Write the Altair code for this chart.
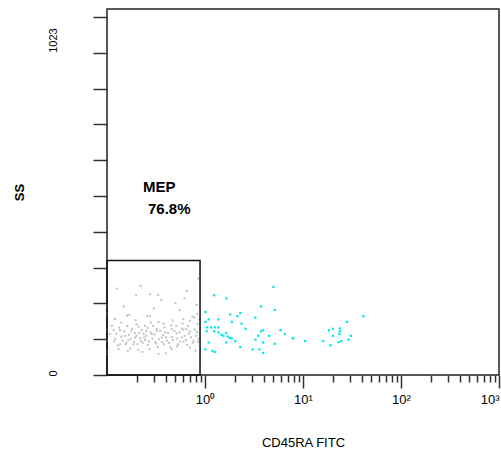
import altair as alt
import pandas as pd

# ---- data (CD45RA FITC vs SS) ----
grey_x = [0.126, 0.198, 0.275, 0.333, 0.357, 0.619, 0.859, 0.148, 0.169, 0.258,
          0.275, 0.196, 0.746, 0.78, 0.706, 0.335, 0.377, 0.245, 0.59, 0.117,
          0.136, 0.177, 0.251, 0.459, 0.508, 0.576, 0.645, 0.322, 0.392, 0.213,
          0.286, 0.153, 0.107, 0.515, 0.68, 0.83, 0.193, 0.24, 0.362, 0.459,
          0.58, 0.121, 0.165, 0.223, 0.31, 0.408, 0.605, 0.764, 0.136, 0.155,
          0.186, 0.26, 0.38, 0.53, 0.653, 0.131, 0.172, 0.209, 0.27, 0.459,
          0.163, 0.335, 0.846, 0.441,
          0.112, 0.118, 0.124, 0.129, 0.133, 0.14, 0.145, 0.15, 0.158, 0.161,
          0.168, 0.175, 0.18, 0.188, 0.192, 0.2, 0.205, 0.21, 0.218, 0.226,
          0.232, 0.237, 0.245, 0.252, 0.26, 0.268, 0.279, 0.29, 0.296, 0.305,
          0.316, 0.322, 0.34, 0.35, 0.366, 0.372, 0.386, 0.4, 0.42, 0.43,
          0.45, 0.47, 0.49, 0.52, 0.55, 0.56, 0.6, 0.62, 0.64, 0.67,
          0.7, 0.72, 0.75, 0.79, 0.81, 0.84, 0.86, 0.88, 0.83, 0.6,
          0.47, 0.28, 0.2, 0.14, 0.33, 0.52, 0.7, 0.23, 0.4, 0.8,
          0.12, 0.16, 0.3, 0.55, 0.82, 0.65, 0.5, 0.22,
          0.1, 0.1, 0.1, 0.1, 0.1, 0.1, 0.1, 0.1, 0.1, 0.1]
grey_y = [247, 228, 231, 229, 215, 219, 276, 196, 172, 168,
          168, 157, 167, 164, 155, 152, 147, 140, 147, 128,
          128, 125, 126, 131, 140, 133, 131, 126, 122, 120,
          117, 112, 117, 119, 117, 122, 107, 107, 107, 109,
          107, 103, 100, 97, 95, 98, 95, 98, 88, 88,
          88, 86, 88, 88, 86, 74, 76, 72, 74, 74,
          69, 60, 95, 79,
          140, 96, 118, 84, 135, 110, 98, 125, 92, 140,
          115, 104, 132, 95, 120, 112, 88, 138, 105, 128,
          92, 118, 100, 112, 135, 96, 122, 104, 140, 116,
          90, 132, 102, 126, 94, 114, 136, 108, 120, 92,
          142, 100, 126, 104, 122, 96, 130, 112, 100, 140,
          124, 108, 92, 130, 112, 146, 104, 160, 175, 160,
          156, 150, 145, 150, 80, 82, 78, 66, 62, 70,
          160, 170, 190, 185, 200, 240, 205, 255,
          200, 192, 176, 170, 130, 128, 100, 96, 68, 60]

cyan_x = [4.99, 1.24, 1.65, 3.73, 5.15, 1.01, 2.29, 1.81, 2.14, 3.26,
          1.09, 1.37, 1.88, 1.01, 2.36, 1.05, 1.16, 1.26, 1.37, 2.60,
          3.91, 5.89, 1.04, 1.24, 1.37, 3.73, 1.65, 6.52, 1.47, 1.54,
          1.70, 3.48, 4.51, 1.79, 1.87, 7.86, 2.04, 1.09, 1.65, 3.28,
          3.91, 5.15, 2.29, 1.01, 1.19, 1.26, 3.06, 3.59, 3.91,
          41.3, 28.1, 23.8, 20.2, 18.4, 23.8, 23.5, 30.8, 20.2, 7.93,
          29.2, 10.5, 16.1, 24.6, 23.1, 19.1]
cyan_y = [252, 228, 219, 196, 186, 180, 177, 173, 168, 164,
          159, 159, 152, 152, 147, 136, 136, 136, 136, 132,
          128, 128, 125, 125, 122, 125, 120, 117, 115, 112,
          110, 112, 112, 106, 105, 105, 97, 93, 93, 101,
          93, 89, 80, 73, 69, 66, 73, 73, 63,
          168, 152, 133, 132, 128, 125, 117, 112, 112, 105,
          101, 97, 97, 97, 94, 85]

gate_x = [0.1, 0.89]
gate_y = [0, 327]
gate_name = ["MEP", "76.8%"]
gate_label_x = [0.233, 0.262]
gate_label_y = [537, 474]

y_tick_values = [round(102.3 * k, 1) for k in range(11)]
y_tick_labels = ["0", "1023"]
x_major = [1, 10, 100, 1000]
x_major_labels = ["10\u2070", "10\u00b9", "10\u00b2", "10\u00b3"]
x_minor = [round(k * 10.0 ** d, 6) for d in range(-1, 3) for k in range(2, 10)]
x_tick_values = sorted(x_minor + x_major)

FONT = "Liberation Sans"

grey = pd.DataFrame({"x": grey_x, "y": grey_y})
cyan = pd.DataFrame({"x": cyan_x, "y": cyan_y})
gate = pd.DataFrame({"x": [gate_x[0]], "x2": [gate_x[1]], "y": [gate_y[0]], "y2": [gate_y[1]]})
labels = pd.DataFrame({"t": gate_name, "x": gate_label_x, "y": gate_label_y})

xs = alt.Scale(type="log", domain=[0.1, 1000], nice=False)
ys = alt.Scale(domain=[0, 1046], nice=False, zero=False)

major_test = "indexof([1,10,100,1000], datum.value) >= 0"
x_label_expr = " : ".join(
    f"datum.value == {v} ? '{l}'" for v, l in zip(x_major, x_major_labels)
) + " : ''"
y_label_expr = (f"datum.value == 0 ? '{y_tick_labels[0]}' : "
                f"(datum.value == 1023 ? '{y_tick_labels[1]}' : '')")

x_axis = alt.Axis(
    values=x_tick_values, tickCount=200,
    tickSize={"condition": {"test": major_test, "value": 13}, "value": 7},
    tickColor="#333", tickWidth=1.5,
    labelExpr=x_label_expr, labelFlush=True, labelOverlap=False,
    labelFont=FONT, labelFontSize=13, labelColor="#000", labelPadding=5,
    domain=False, grid=False,
    title="CD45RA FITC", titleFont=FONT, titleFontSize=13, titleFontWeight="normal",
    titleColor="#000", titleX=196, titleY=67, titleAlign="center", titleBaseline="middle",
)
y_axis = alt.Axis(
    values=y_tick_values, tickCount=200, tickSize=14, tickColor="#333", tickWidth=1.5,
    labelExpr=y_label_expr, labelAngle=270, labelAlign="center", labelBaseline="bottom",
    labelPadding=35,
    labelOffset={"condition": {"test": "datum.value == 1023", "value": 23}, "value": -2},
    labelFont=FONT, labelFontSize=11, labelColor="#000", labelOverlap=False,
    domain=False, grid=False,
    title="SS", titleFont=FONT, titleFontSize=13, titleFontWeight="bold", titleColor="#000",
    titleAngle=270, titleX=-88, titleY=183, titleAlign="center", titleBaseline="middle",
)

grey_layer = alt.Chart(grey).mark_square(size=4, color="#c2c2c2", opacity=1).encode(
    x=alt.X("x:Q", scale=xs, axis=x_axis),
    y=alt.Y("y:Q", scale=ys, axis=y_axis),
)
cyan_layer = alt.Chart(cyan).mark_square(size=5, color="#00e8e8", opacity=1).encode(
    x=alt.X("x:Q", scale=xs), y=alt.Y("y:Q", scale=ys)
)
gate_layer = alt.Chart(gate).mark_rect(fillOpacity=0, stroke="#111", strokeWidth=1.5).encode(
    x=alt.X("x:Q", scale=xs), x2="x2:Q", y=alt.Y("y:Q", scale=ys), y2="y2:Q"
)
text_layer = alt.Chart(labels).mark_text(
    align="left", baseline="middle", font=FONT, fontSize=15, fontWeight="bold", color="#000"
).encode(x=alt.X("x:Q", scale=xs), y=alt.Y("y:Q", scale=ys), text="t:N")

chart = alt.layer(grey_layer, cyan_layer, gate_layer, text_layer).properties(
    width=392, height=366,
    padding={"left": 107, "top": 9, "right": 2, "bottom": 81},
    autosize=alt.AutoSizeParams(type="none"),
    background="white",
).configure_view(stroke="#222", strokeWidth=1.5)

chart.save("out.html", embed_options={"renderer": "svg", "actions": False})
